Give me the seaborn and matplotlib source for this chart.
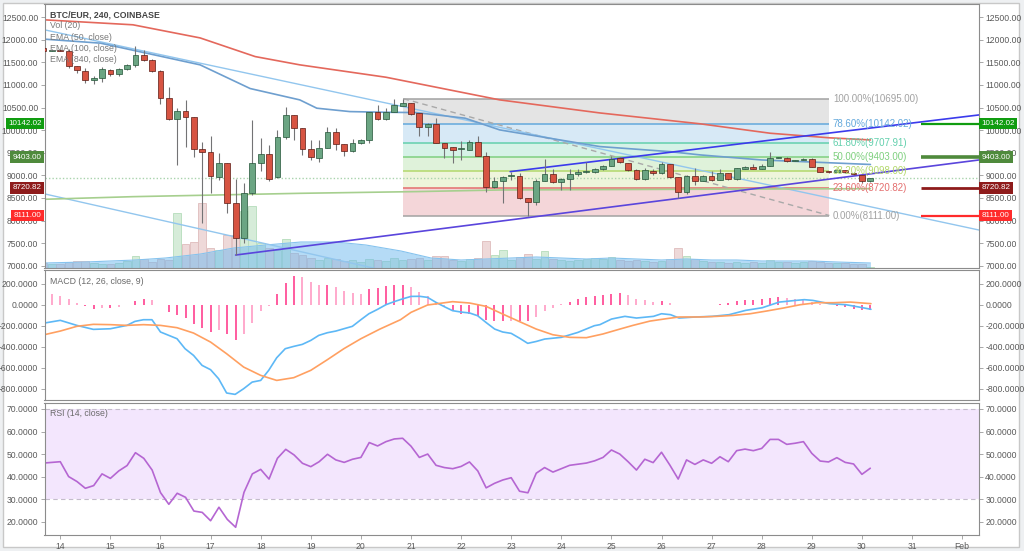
import numpy as np
import pandas as pd
import matplotlib
matplotlib.use("Agg")
import matplotlib.pyplot as plt
import matplotlib.transforms as mtransforms
from matplotlib.patches import Rectangle
import seaborn as sns

# ---------------- data ----------------
candle_start = "2018-01-13 16:00"   # 4h candles, BTC/EUR Coinbase

opens = [11810, 11755,
         11765, 11760, 11408, 11312, 11118, 11164,
         11334, 11245, 11349, 11438, 11651, 11555,
         11312, 10706, 10241, 10426, 10286, 9577,
         9525, 8967, 9267, 8396, 7621, 8603,
         9282, 9474, 8957, 9842, 10337, 10042,
         9577, 9377, 9614, 9953, 9687, 9547,
         9710, 9783, 10396, 10241, 10396, 10543,
         10595, 10374, 10064, 10138, 9709, 9621,
         9584, 9562, 9747, 9429, 8750, 8876,
         8985, 8986, 8492, 8418, 8883, 9023,
         8846, 8920, 9030, 9080, 9082, 9134,
         9208, 9378, 9267, 9119, 8920, 9097,
         9045, 9245, 8957, 8625, 8993, 8883,
         8993, 8898, 9045, 8912, 9149, 9193,
         9149, 9207, 9392, 9392, 9326, 9340,
         9355, 9178, 9085, 9082, 9119, 9060,
         9008, 8875]
highs = [11830, 11790,
         11800, 11790, 11420, 11370, 11200, 11400,
         11360, 11380, 11470, 11850, 11770, 11580,
         11320, 10960, 10480, 10670, 10300, 9747,
         9870, 9500, 9270, 8913, 8840, 10227,
         9820, 9670, 10000, 10522, 10337, 10050,
         9780, 9780, 10060, 10040, 9700, 9800,
         9800, 10410, 10560, 10480, 10690, 10695,
         10600, 10380, 10150, 10260, 9720, 9630,
         9760, 9790, 9860, 9520, 8970, 8990,
         9082, 9045, 8500, 8912, 9363, 9150,
         8950, 9134, 9150, 9300, 9160, 9230,
         9430, 9400, 9280, 9130, 9170, 9140,
         9300, 9260, 8970, 9010, 9160, 9010,
         9100, 9140, 9060, 9170, 9210, 9260,
         9260, 9510, 9400, 9400, 9335, 9380,
         9380, 9190, 9090, 9130, 9125, 9070,
         9010, 8950]
lows = [11740, 11745,
        11740, 11370, 11270, 11050, 11020, 11070,
        11200, 11200, 11330, 11400, 11530, 11280,
        10581, 10230, 9230, 9636, 9415, 7938,
        8620, 8890, 8160, 7237, 7500, 8560,
        9090, 8870, 8930, 9800, 9783, 9450,
        9340, 9300, 9600, 9560, 9430, 9520,
        9700, 9710, 10230, 10230, 10390, 10530,
        10340, 9860, 9860, 9710, 9380, 9270,
        9340, 9550, 9420, 8639, 8720, 8381,
        8900, 8470, 8111, 8345, 8870, 8830,
        8680, 8680, 8990, 9050, 9060, 9110,
        9200, 9270, 9100, 8900, 8900, 9000,
        9040, 8940, 8490, 8580, 8780, 8870,
        8880, 8890, 8900, 8900, 9140, 9140,
        9140, 9200, 9380, 9300, 9320, 9335,
        9180, 9070, 9060, 9070, 9050, 9000,
        8820, 8860]
closes = [11760, 11765,
          11760, 11408, 11319, 11112, 11163, 11349,
          11245, 11349, 11445, 11666, 11555, 11297,
          10706, 10241, 10426, 10286, 9577, 9525,
          8994, 9267, 8381, 7621, 8603, 9282,
          9474, 8920, 9842, 10337, 10042, 9577,
          9400, 9614, 9953, 9687, 9547, 9710,
          9783, 10396, 10241, 10396, 10558, 10595,
          10359, 10064, 10138, 9724, 9614, 9562,
          9606, 9747, 9429, 8750, 8876, 8957,
          8990, 8492, 8418, 8883, 9023, 8846,
          8920, 9023, 9067, 9085, 9134, 9208,
          9363, 9289, 9119, 8920, 9119, 9045,
          9245, 8957, 8625, 8994, 8883, 8993,
          8898, 9045, 8912, 9156, 9193, 9149,
          9207, 9392, 9395, 9318, 9330, 9355,
          9193, 9082, 9082, 9119, 9067, 9030,
          8875, 8934]
volumes = [100, 80,
           80, 120, 140, 140, 100, 80,
           80, 100, 140, 240, 180, 120,
           180, 160, 1100, 480, 520, 1300,
           400, 360, 660, 660, 1140, 1240,
           500, 400, 360, 580, 300, 260,
           200, 160, 200, 180, 140, 160,
           120, 180, 160, 140, 200, 160,
           180, 200, 160, 240, 240, 160,
           140, 180, 200, 540, 260, 360,
           160, 220, 280, 180, 340, 180,
           160, 140, 160, 180, 200, 180,
           220, 160, 140, 160, 140, 120,
           140, 180, 400, 240, 180, 140,
           120, 120, 100, 120, 100, 120,
           100, 160, 120, 120, 100, 120,
           140, 120, 100, 100, 100, 80,
           80, 20]
vol_ma_days = [13.68, 14.5, 15.5, 16.1, 16.8, 17.46, 18.1, 18.8, 19.5, 20.1, 20.8,
               21.4, 22.0, 22.5, 23.0, 23.5, 24.0, 24.5, 25.0, 25.5, 26.0, 26.5,
               27.0, 27.5, 28.0, 28.5, 29.0, 29.5, 30.17]
vol_ma = [100, 120, 160, 200, 280, 400, 460, 520, 520, 460, 340,
          200, 160, 180, 200, 220, 200, 180, 200, 180, 160, 180,
          160, 160, 140, 140, 140, 120, 100]

ema100_days = [13.68, 15.45, 16.79, 17.89, 18.78, 20.5, 22.77, 24.77, 26.77, 28.17, 29.35, 30.17]
ema100 = [12440, 12330, 12040, 11627, 11444, 11170, 10669, 10380, 10140, 9931, 9830, 9783]
ema50_days = [13.68, 14.8, 16.79, 17.79, 18.78, 19.12, 19.78, 20.44, 21.1, 22.08, 22.77,
              24.77, 26.17, 26.77, 28.0, 30.17]
ema50 = [12013, 11924, 11444, 10920, 10669, 10485, 10410, 10396, 10388, 10264, 10005,
         9636, 9524, 9452, 9340, 9240]
ema840_days = [13.68, 15.45, 18.78, 21.1, 22.77, 26.17, 30.17]
ema840 = [8470, 8528, 8602, 8640, 8676, 8690, 8705]

channel_days = [13.685, 32.337]
channel_upper = [12219, 7790]
channel_lower = [8590, 3927]
tri_upper_days = [22.98, 32.337]
tri_upper = [9082, 10336]
tri_lower_days = [17.5, 32.337]
tri_lower = [7237, 9340]

fib_levels = [1.0, 0.786, 0.618, 0.5, 0.382, 0.236, 0.0]
fib_prices = [10695.00, 10142.02, 9707.91, 9403.00, 9098.00, 8720.82, 8111.00]
fib_days = [20.85, 29.35]
key_levels = [10142.02, 9403.00, 8720.82, 8111.00]
last_price = 8934

macd_days = [13.68, 14.0, 14.33, 14.66, 15.0, 15.33, 15.49, 15.66, 15.83, 16.0, 16.33, 16.49,
             16.66, 16.83, 17.0, 17.16, 17.32, 17.49, 17.66, 17.83, 18.0, 18.16, 18.32, 18.49,
             18.66, 18.83, 19.0, 19.16, 19.33, 19.5, 19.66, 19.83, 20.0, 20.16, 20.33, 20.5,
             20.67, 20.83, 21.0, 21.17, 21.33, 21.5, 21.67, 21.83, 22.0, 22.17, 22.33, 22.5,
             22.67, 22.83, 23.0, 23.17, 23.33, 23.5, 23.67, 24.0, 24.33, 24.66, 24.77, 25.0,
             25.1, 25.27, 25.5, 25.84, 26.0, 26.18, 26.35, 26.68, 27.01, 27.35, 27.68, 28.01,
             28.35, 28.68, 28.85, 29.02, 29.35, 29.68, 30.02, 30.18]
macd = [-175, -149, -197, -235, -229, -197, -159, -143, -143, -260, -324, -419,
        -483, -578, -619, -705, -841, -854, -800, -737, -721, -625, -505, -419,
        -397, -378, -340, -292, -267, -251, -229, -206, -143, -86, -45, 0,
        30, 55, 79, 80, 70, 22, -20, -57, -70, -79, -105, -170,
        -232, -260, -273, -320, -368, -350, -327, -311, -264, -200, -190, -137,
        -127, -111, -127, -111, -86, -95, -127, -117, -111, -95, -54, -29,
        25, 41, 48, 41, 10, 0, -29, -44]
signal_days = [13.68, 14.0, 14.33, 14.66, 15.0, 15.33, 15.66, 16.0, 16.33, 16.66, 17.0, 17.32,
               17.66, 18.0, 18.32, 18.66, 19.0, 19.33, 19.66, 20.0, 20.38, 20.79, 21.0, 21.33,
               21.83, 22.17, 22.5, 22.83, 23.17, 23.5, 23.83, 24.17, 24.5, 24.83, 25.17, 25.43,
               25.77, 26.1, 26.35, 26.77, 27.1, 27.43, 27.77, 28.1, 28.43, 28.77, 29.1, 29.43,
               29.77, 30.18]
signal = [-286, -251, -206, -187, -190, -197, -190, -197, -219, -270, -356, -467,
          -594, -673, -721, -695, -625, -524, -419, -324, -232, -143, -73, -3,
          29, 16, -16, -89, -162, -232, -286, -311, -314, -279, -232, -197,
          -156, -133, -117, -117, -111, -102, -86, -60, -32, 0, 19, 19,
          25, 10]
hist = [110, 98,
        83, 51, 16, -16, -38, -29,
        -29, -22, -3, 32, 51, 48,
        -5, -70, -95, -127, -187, -222,
        -260, -245, -276, -333, -276, -171,
        -60, -10, 105, 210, 270, 264,
        216, 190, 190, 168, 127, 111,
        105, 146, 162, 178, 184, 187,
        165, 117, 79, 22, -19, -57,
        -89, -89, -105, -146, -159, -159,
        -152, -152, -152, -114, -64, -32,
        3, 29, 54, 70, 86, 88,
        106, 110, 90, 57, 48, 22,
        32, 19, -5, -3, -3, 0,
        0, 5, 19, 32, 41, 48,
        51, 67, 73, 64, 57, 48,
        22, 10, -6, -16, -22, -38,
        -48, -54]
rsi = [46.0, 46.3,
       46.6, 40.0, 37.8, 34.8, 36.0, 41.2,
       39.2, 42.5, 44.9, 50.6, 48.1, 42.9,
       32.9, 27.7, 32.6, 30.8, 24.7, 24.1,
       20.4, 26.4, 21.0, 17.5, 33.0, 41.2,
       43.2, 38.9, 48.1, 52.1, 49.6, 45.9,
       44.4, 46.6, 49.9, 47.4, 46.3, 47.7,
       48.5, 55.1, 53.6, 55.5, 56.7, 57.0,
       53.5, 48.5, 50.0, 45.0, 44.0, 43.5,
       44.5, 46.5, 42.5, 35.0, 37.0, 38.5,
       39.5, 33.5, 32.8, 41.5, 44.0, 42.0,
       43.5, 45.0, 45.5, 46.0, 47.0, 48.5,
       51.8, 50.0, 46.6, 42.9, 47.7, 46.2,
       50.8, 45.1, 38.9, 47.4, 45.4, 47.4,
       45.9, 48.8, 46.6, 51.5, 52.2, 51.5,
       52.5, 56.5, 56.5, 54.3, 54.8, 55.5,
       50.3, 46.9, 46.5, 48.4, 46.3, 45.6,
       41.0, 43.7]
date_ticks = list(range(14, 33))
date_labels = [str(d) for d in range(14, 32)] + ["Feb"]

# ---------------- figure ----------------
sns.set_theme(style="white")
plt.rcParams["font.family"] = ["Liberation Sans", "DejaVu Sans"]

W, H = 1024, 551
fig = plt.figure(figsize=(W / 100, H / 100), dpi=100, facecolor="#eef0f2")
fig.patches.append(Rectangle((3 / W, 1 - 547 / H), 1016 / W, 544 / H,
                             transform=fig.transFigure, fc="white", ec="#c8c8c8",
                             lw=1, zorder=-5))

L, R = 44.5, 979.0
def rect(top, bot):
    return [L / W, 1 - bot / H, (R - L) / W, (bot - top) / H]

ax = fig.add_axes(rect(4, 268))
axm = fig.add_axes(rect(270, 400), sharex=ax)
axr = fig.add_axes(rect(403, 535), sharex=ax)

ts = pd.date_range(candle_start, periods=len(opens), freq="4h")
t = ((ts - pd.Timestamp("2018-01-01")) / pd.Timedelta("1D")).to_numpy() + 1.0
o = np.array(opens, float); c = np.array(closes, float)
hi = np.array(highs, float); lo = np.array(lows, float)
up = c >= o

XL = (13.685, 32.337)
TXT = "#5a5a5a"

# volume on a twin axis below the price artists
axv = ax.twinx()
axv.set_ylim(0, 5280)
axv.bar(t, volumes, width=1 / 6 * 0.92,
        color=np.where(up, "#d6ecd9", "#eed9d9"),
        edgecolor=np.where(up, "#b5dcbb", "#dfbcbc"), linewidth=0.6, zorder=1)
axv.fill_between(vol_ma_days, 0, vol_ma, color="#6cb8ef", alpha=0.5, lw=0, zorder=2)
sns.lineplot(x=vol_ma_days, y=vol_ma, ax=axv, color="#86c3ee", lw=0.8, legend=False)
axv.set_yticks([])
axv.set_ylabel("")
for sp in axv.spines.values():
    sp.set_visible(False)
ax.set_zorder(axv.get_zorder() + 1)
ax.patch.set_visible(False)

# fib retracement box
fib_fill = ["#e4e4e4", "#d7e9f6", "#d6f2e7", "#dff2da", "#eef5db", "#f4d6d9"]
fib_line = ["#a2a2a2", "#64a9dc", "#63d0ad", "#7fd07f", "#b3d86b", "#e46e6e", "#a2a2a2"]
for k in range(len(fib_prices) - 1):
    ax.fill_between(fib_days, fib_prices[k + 1], fib_prices[k], color=fib_fill[k],
                    lw=0, zorder=0.5)
for k, (lv, pr) in enumerate(zip(fib_levels, fib_prices)):
    ax.hlines(pr, fib_days[0], fib_days[1], color=fib_line[k], lw=1.1, zorder=1)
    ax.text(fib_days[1] + 0.07, pr, f"{lv * 100:.2f}%({pr:.2f})", color=fib_line[k],
            fontsize=7, va="center", ha="left", zorder=6)
ax.plot(fib_days, [fib_prices[0], fib_prices[-1]], color="#a9a9a9", lw=1,
        ls=(0, (4, 3)), zorder=1.2)

# trend lines and EMAs
sns.lineplot(x=channel_days, y=channel_upper, ax=ax, color="#92c6ee", lw=1, legend=False)
sns.lineplot(x=channel_days, y=channel_lower, ax=ax, color="#92c6ee", lw=1, legend=False)
sns.lineplot(x=ema100_days, y=ema100, ax=ax, color="#e4685c", lw=1.2, legend=False)
sns.lineplot(x=ema50_days, y=ema50, ax=ax, color="#6e9fcf", lw=1.2, legend=False)
sns.lineplot(x=ema840_days, y=ema840, ax=ax, color="#a6cf8e", lw=1.2, legend=False)
ax.axhline(last_price, color="#a9d3ad", lw=1, ls=(0, (1, 1.5)), zorder=1)
sns.lineplot(x=tri_upper_days, y=tri_upper, ax=ax, color="#3b3bec", lw=1.2, legend=False)
sns.lineplot(x=tri_lower_days, y=tri_lower, ax=ax, color="#5a45dc", lw=1.2, legend=False)

# candles
ax.vlines(t, lo, hi, color="#737375", lw=0.8, zorder=4)
ax.bar(t, np.maximum(np.abs(c - o), 12), bottom=np.minimum(o, c), width=0.115,
       color=np.where(up, "#6ba583", "#d75442"),
       edgecolor=np.where(up, "#225437", "#5b1a13"), linewidth=0.5, zorder=5)

# key level marks at the right
key_colors = ["#109c10", "#4f8a3c", "#8e1b1b", "#ff2b2b"]
key_lw = [1.6, 2.6, 2.0, 1.6]
for lvl, col, lw in zip(key_levels, key_colors, key_lw):
    ax.hlines(lvl, 31.18, XL[1], color=col, lw=lw, zorder=3)
trL = mtransforms.blended_transform_factory(fig.transFigure, ax.transData)
for lvl, col in zip(key_levels, key_colors):
    for xx, ha in ((41.5 / W, "right"), (981.5 / W, "left")):
        ax.text(xx, lvl, f"{lvl:.2f}", transform=trL, ha=ha, va="center", color="white",
                fontsize=5.8, clip_on=False, zorder=10,
                bbox=dict(boxstyle="square,pad=0.28", fc=col, ec="none"))

ax.set_ylim(6950, 12790)
ax.set_xlim(*XL)
pt = list(range(7000, 12501, 500))
ax.set_yticks(pt)
ax.set_yticklabels([f"{v:.2f}" for v in pt])

# MACD
hcol = []
for i, v in enumerate(hist):
    prev = hist[i - 1] if i else v
    hcol.append("#ff5c9f" if abs(v) >= abs(prev) else "#ffa9cc")
axm.vlines(t, 0, hist, colors=hcol, lw=1.4, zorder=1)
sns.lineplot(x=macd_days, y=macd, ax=axm, color="#5db8f6", lw=1.2, legend=False)
sns.lineplot(x=signal_days, y=signal, ax=axm, color="#ffa061", lw=1.2, legend=False)
axm.set_ylim(-907.6, 330.5)
mt = list(range(-800, 201, 200))
axm.set_yticks(mt)
axm.set_yticklabels([f"{v:.4f}" for v in mt])

# RSI
axr.axhspan(30, 70, color="#f3e6fd", lw=0, zorder=0)
for lv in (70, 30):
    axr.axhline(lv, color="#c4bccb", lw=0.8, ls=(0, (4, 3)), zorder=1)
sns.lineplot(x=t, y=rsi, ax=axr, color="#b566d2", lw=1.2, legend=False)
axr.set_ylim(14.07, 72.66)
rt = list(range(20, 71, 10))
axr.set_yticks(rt)
axr.set_yticklabels([f"{v:.4f}" for v in rt])
axr.set_xticks(date_ticks)
axr.set_xticklabels(date_labels)

for a in (ax, axm, axr):
    a.set_xlim(*XL)
    a.set_xlabel(""); a.set_ylabel("")
    a.tick_params(axis="y", left=True, right=True, labelleft=True, labelright=True,
                  length=3, width=0.6, color="#9a9a9a", labelsize=6.2, labelcolor=TXT,
                  pad=1.5, direction="out")
    for sp in a.spines.values():
        sp.set_color("#8c8c8c"); sp.set_linewidth(0.8); sp.set_visible(True)
for a in (ax, axm):
    a.tick_params(axis="x", bottom=False, labelbottom=False)
axr.tick_params(axis="x", bottom=True, length=3, width=0.6, color="#9a9a9a",
                labelsize=6.2, labelcolor=TXT, pad=2, direction="out")

# titles
fig.text(50 / W, 1 - 14.7 / H, "BTC/EUR, 240, COINBASE", fontsize=6.3, color="#444444",
         fontweight="bold", va="center", ha="left")
for yy, s in zip([25.7, 37.0, 48.4, 59.8],
                 ["Vol (20)", "EMA (50, close)", "EMA (100, close)", "EMA (840, close)"]):
    fig.text(50 / W, 1 - yy / H, s, fontsize=6.3, color="#7a7a7a", va="center", ha="left")
fig.text(50 / W, 1 - 281 / H, "MACD (12, 26, close, 9)", fontsize=6.3, color="#6a6a6a",
         va="center", ha="left")
fig.text(50 / W, 1 - 414 / H, "RSI (14, close)", fontsize=6.3, color="#6a6a6a",
         va="center", ha="left")

fig.savefig("out.png", dpi=100, facecolor=fig.get_facecolor())
